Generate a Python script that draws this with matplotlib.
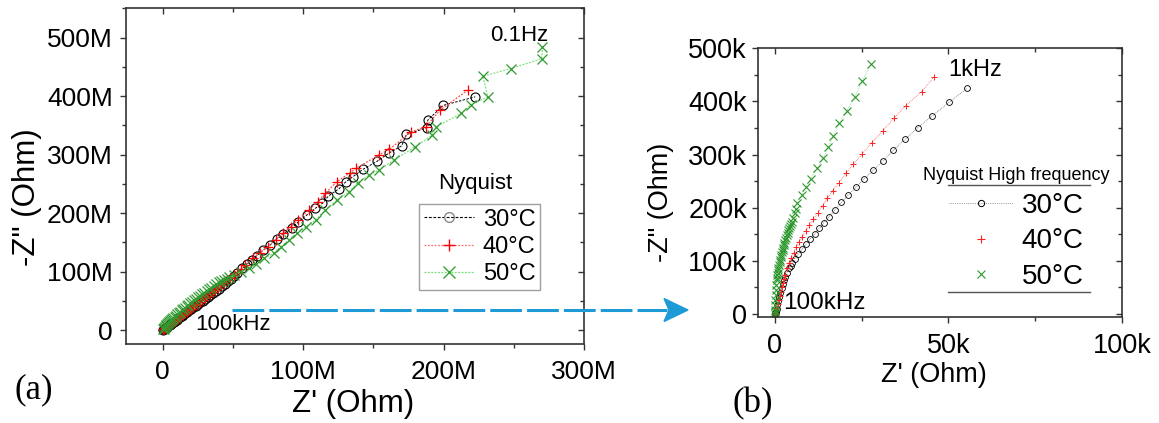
import matplotlib
matplotlib.use('Agg')
import matplotlib.pyplot as plt
from matplotlib.lines import Line2D
from matplotlib.patches import Polygon
from matplotlib.ticker import MultipleLocator

plt.rcParams['font.family'] = ['Liberation Sans', 'DejaVu Sans']

# ---------------- data ----------------
temps = ['30°C', '40°C', '50°C']

# Panel (a): full Nyquist (values in MOhm)
x30a = [0.3, 0.8, 1.4, 2.0, 2.7, 3.4, 4.2, 5.0, 5.9, 6.8, 7.8, 8.8, 9.9, 11.0, 12.2, 13.4, 14.7, 16.0,
        17.4, 18.8, 20.3, 21.8, 23.4, 25.0, 26.7, 28.4, 30.2, 32.0, 33.9, 35.8, 37.8, 39.8, 41.9, 44.0,
        46.2, 48.4, 50.6, 52.7, 56.3, 59.8, 63.4, 67.0, 71.7, 76.4, 81.2, 85.9, 91.9, 96.6, 102.6, 108.5,
        113.7, 117.9, 125.5, 130.1, 135.3, 142.4, 152.4, 161.2, 170.1, 173.4, 187.8, 188.7, 199.5, 222.4]
y30a = [1.2, 2.2, 3.3, 4.4, 5.6, 6.9, 8.3, 9.7, 11.3, 12.9, 14.6, 16.4, 18.3, 20.2, 22.3, 24.4, 26.7, 29.0,
        31.4, 33.9, 36.5, 39.1, 41.9, 44.7, 47.7, 50.7, 53.9, 57.1, 60.5, 64.0, 67.6, 71.3, 75.2, 79.2,
        83.4, 87.7, 92.0, 97.5, 105.8, 113.0, 120.0, 127.5, 137.0, 145.6, 156.0, 165.0, 174.0, 185.3, 197.0, 208.2,
        216.7, 229.2, 241.8, 253.1, 262.2, 274.7, 288.4, 303.0, 315.0, 334.5, 345.8, 359.0, 384.0, 398.8]

x40a = [0.5, 1.1, 1.7, 2.4, 3.1, 3.9, 4.7, 5.6, 6.5, 7.5, 8.5, 9.6, 10.7, 11.9, 13.1, 14.4, 15.7, 17.1,
        18.5, 20.0, 21.5, 23.1, 24.7, 26.4, 28.1, 29.9, 31.7, 33.6, 35.5, 37.5, 39.5, 41.6, 43.7, 45.9,
        48.1, 50.4, 52.7, 55.8, 58.5, 64.0, 69.4, 74.9, 80.3, 85.8, 91.2, 96.6, 104.3, 110.3, 115.7, 123.9,
        133.4, 137.5, 153.8, 161.4, 177.0, 187.3, 197.4, 217.0]
y40a = [1.5, 2.6, 3.7, 4.9, 6.1, 7.5, 8.9, 10.5, 12.1, 13.9, 15.7, 17.7, 19.7, 21.8, 24.0, 26.4, 28.8, 31.3,
        33.9, 36.6, 39.4, 42.3, 45.3, 48.4, 51.5, 54.8, 58.2, 61.7, 65.3, 69.0, 72.8, 76.8, 80.8, 85.0,
        89.3, 93.7, 98.2, 104.0, 111.0, 123.0, 132.5, 142.8, 155.0, 165.5, 177.0, 189.0, 206.0, 219.6, 233.8, 253.7,
        269.0, 276.5, 299.2, 309.4, 339.0, 347.5, 376.0, 410.0]

x50a = [0.2, 0.6, 1.0, 1.5, 2.0, 2.6, 3.2, 3.8, 4.5, 5.2, 6.0, 6.8, 7.6, 8.5, 9.4, 10.4, 11.4, 12.4,
        13.5, 14.6, 15.8, 17.0, 18.2, 19.5, 20.8, 22.2, 23.6, 25.0, 26.5, 28.0, 29.6, 31.2, 32.8, 34.5,
        36.2, 38.0, 39.8, 41.6, 43.5, 45.4, 47.4, 50.4, 55.8, 61.3, 66.7, 72.1, 78.9, 84.4, 89.8, 95.3,
        102.1, 108.9, 115.7, 123.9, 132.6, 138.8, 147.0, 153.8, 164.7, 179.7, 191.9, 194.6, 212.3, 219.1,
        231.4, 227.9, 247.7, 269.8, 270.3]
y50a = [1.5, 2.8, 4.0, 5.5, 7.0, 8.6, 10.2, 11.8, 13.5, 15.2, 17.1, 19.0, 20.9, 23.0, 25.0, 27.2, 29.4, 31.6,
        33.9, 36.2, 38.6, 41.0, 43.4, 45.9, 48.4, 51.0, 53.6, 56.2, 58.9, 61.6, 64.4, 67.2, 70.0, 72.9,
        75.8, 78.8, 81.6, 84.2, 86.6, 88.0, 90.5, 94.0, 100.0, 106.5, 113.0, 122.9, 131.4, 142.8, 154.2, 165.5,
        177.0, 188.3, 205.0, 222.0, 236.6, 252.0, 265.0, 273.6, 290.7, 313.4, 333.3, 347.5, 370.3, 384.5,
        398.8, 434.0, 447.0, 464.0, 484.0]

# Panel (b): high-frequency part (values in kOhm)
x30b = [0.1, 0.2, 0.3, 0.4, 0.6, 0.8, 1.0, 1.3, 1.6, 2.0, 2.3, 2.7, 3.1, 3.5, 4.1, 4.6, 5.0, 5.8, 6.8,
        7.9, 8.9, 10.2, 11.5, 12.8, 14.2, 15.7, 17.4, 19.2, 21.2, 23.4, 25.7, 28.4, 31.3, 34.1, 37.5, 41.2,
        45.4, 50.2, 55.3]
y30b = [0.5, 1.0, 2.5, 4.4, 10.0, 16.9, 24.0, 32.6, 40.0, 48.3, 56.0, 64.0, 70.5, 76.5, 86.0, 90.8, 95.4,
        104.1, 112.9, 121.7, 131.1, 141.2, 150.6, 161.2, 171.9, 183.2, 196.4, 210.2, 224.0, 238.4, 254.1, 270.4,
        288.6, 308.0, 328.8, 350.7, 373.3, 398.4, 424.8]

x40b = [0.1, 0.2, 0.4, 0.7, 1.0, 1.2, 1.5, 1.7, 2.0, 2.3, 2.6, 2.9, 3.5, 4.0, 4.7, 5.5, 6.2, 7.0, 8.0, 8.9,
        10.0, 11.1, 12.4, 13.8, 15.2, 16.7, 18.5, 20.5, 22.6, 25.2, 27.9, 31.1, 34.3, 37.7, 42.3, 45.9]
y40b = [0.3, 0.8, 1.3, 10.7, 18.5, 26.4, 34.0, 42.0, 50.5, 59.0, 66.0, 73.4, 86.0, 95.4, 104.8, 115.4, 125.5,
        136.1, 145.6, 156.9, 167.5, 178.2, 190.7, 203.9, 217.7, 232.1, 247.2, 264.8, 282.3, 301.2, 322.5, 344.4,
        368.3, 392.1, 418.5, 446.7]

x50b = [0.0, 0.05, 0.1, 0.15, 0.2, 0.3, 0.4, 0.5, 0.6, 0.7, 0.8, 0.9, 1.0, 1.1, 1.25, 1.4, 1.5, 1.7, 1.9,
        2.1, 2.3, 2.5, 2.65, 2.8, 3.0, 3.2, 3.45, 3.7, 3.9, 4.15, 4.4, 4.65, 4.9, 5.35, 5.8, 6.05, 6.3, 7.8,
        9.0, 10.4, 12.3, 14.0, 15.4, 16.9, 18.6, 20.7, 23.1, 25.2, 27.7]
y50b = [0.5, 4.0, 7.5, 17.0, 26.0, 35.5, 45.0, 54.5, 64.0, 68.7, 73.4, 78.1, 82.8, 86.0, 92.0, 97.0, 101.0,
        107.0, 112.0, 116.0, 120.0, 125.0, 129.5, 134.0, 139.0, 143.0, 148.5, 153.0, 158.0, 162.0, 166.0, 170.0,
        173.7, 181.5, 189.5, 198.0, 208.0, 224.0, 239.6, 255.0, 274.0, 293.0, 313.7, 335.0, 358.8, 382.0, 409.0,
        438.5, 470.0]

xticks_a = [0, 100, 200, 300]
xticklabels_a = ['0', '100M', '200M', '300M']
yticks_a = [0, 100, 200, 300, 400, 500]
yticklabels_a = ['0', '100M', '200M', '300M', '400M', '500M']
xticks_b = [0, 50, 100]
xticklabels_b = ['0', '50k', '100k']
yticks_b = [0, 100, 200, 300, 400, 500]
yticklabels_b = ['0', '100k', '200k', '300k', '400k', '500k']

# ---------------- layout helpers ----------------
W, H = 1159, 423
fig = plt.figure(figsize=(W / 100, H / 100), dpi=100)
fig.patch.set_facecolor('white')


def fx(px):
    return px / W


def fy(py):
    return 1 - py / H


def rect(l, t, r, b):
    return [fx(l), fy(b), fx(r) - fx(l), fy(t) - fy(b)]


SPC = '#333333'


def style(ax, xt, xtl, yt, ytl, xminor, yminor, lsize, xpad, ypad):
    for s in ax.spines.values():
        s.set_linewidth(1.2)
        s.set_color(SPC)
    ax.set_xticks(xt)
    ax.set_xticklabels(xtl)
    ax.set_yticks(yt)
    ax.set_yticklabels(ytl)
    ax.xaxis.set_minor_locator(MultipleLocator(xminor))
    ax.yaxis.set_minor_locator(MultipleLocator(yminor))
    ax.tick_params(which='both', direction='out', color=SPC, width=1.0, labelsize=lsize)
    ax.tick_params(which='major', length=4.6)
    ax.tick_params(which='minor', length=2.8)
    ax.tick_params(axis='x', pad=xpad)
    ax.tick_params(axis='y', pad=ypad)
    top = ax.secondary_xaxis('top')
    top.set_xticks(xt)
    top.xaxis.set_minor_locator(MultipleLocator(xminor))
    top.tick_params(which='both', direction='in', color=SPC, width=1.0, labeltop=False)
    top.tick_params(which='major', length=4.6)
    top.tick_params(which='minor', length=2.8)
    top.spines['top'].set_visible(False)
    right = ax.secondary_yaxis('right')
    right.set_yticks(yt)
    right.yaxis.set_minor_locator(MultipleLocator(yminor))
    right.tick_params(which='both', direction='in', color=SPC, width=1.0, labelright=False)
    right.tick_params(which='major', length=4.6)
    right.tick_params(which='minor', length=2.8)
    right.spines['right'].set_visible(False)


# ---------------- panel (a) ----------------
axA = fig.add_axes(rect(126.2, 8.3, 584.2, 344.3))
axA.set_xlim(-26, 300)
axA.set_ylim(-24, 550)
axA.plot(x30a, y30a, color='black', ls=(0, (2.5, 1.5)), lw=0.7, marker='o', mfc='none', mec='black',
         ms=6.5, mew=0.8)
axA.plot(x40a, y40a, color='#ff5050', ls=(0, (1.5, 1.2)), lw=0.9, marker='+', mec='red', ms=7, mew=0.9)
axA.plot(x50a, y50a, color='#7be07b', ls=(0, (1.5, 1.2)), lw=0.9, marker='x', mec='#2f9a2f', ms=6.5, mew=0.9)
style(axA, xticks_a, xticklabels_a, yticks_a, yticklabels_a, 50, 50, 19, 7, 5)

axA.text(254, 504, '0.1Hz', fontsize=16, ha='center', va='center')
axA.text(23, 9, '100kHz', fontsize=16, ha='left', va='center')
axA.text(222.8, 251, 'Nyquist', fontsize=16, ha='center', va='center')

hA = [Line2D([], [], color='black', ls=(0, (2.5, 1.5)), lw=0.8, marker='o', mfc='none', mec='#888888', ms=7, mew=1.0),
      Line2D([], [], color='#ff7070', ls=(0, (1.5, 1.2)), lw=0.9, marker='+', mec='red', ms=8, mew=1.0),
      Line2D([], [], color='#70e070', ls=(0, (1.5, 1.2)), lw=0.9, marker='x', mec='#35a535', ms=8, mew=1.0)]
legA = axA.legend(hA, temps, loc='upper left', bbox_to_anchor=(0.6393, 0.4176), borderaxespad=0,
                  frameon=True, fontsize=17, handlelength=2.15, handletextpad=0.35, labelspacing=0.22,
                  borderpad=0.2, fancybox=False, edgecolor='#888888', numpoints=1)
legA.get_frame().set_linewidth(1.0)

fig.text(fx(27.5), fy(197), '-Z" (Ohm)', rotation=90, fontsize=22.5, ha='center', va='center')
fig.text(fx(353.6), fy(404), "Z' (Ohm)", fontsize=22.5, ha='center', va='center')
fig.text(fx(33.5), fy(390), '(a)', fontsize=25, ha='center', va='center', family='Liberation Serif')

# ---------------- panel (b) ----------------
axB = fig.add_axes(rect(758.3, 48.3, 1122.3, 317))
axB.set_xlim(-4.7, 100)
axB.set_ylim(-5.6, 500)
axB.plot(x30b, y30b, color='#777777', ls=(0, (1, 1.2)), lw=0.6, marker='o', mfc='none', mec='black', ms=4.2, mew=0.6)
axB.plot(x40b, y40b, color='#ff6060', ls=(0, (1, 1.2)), lw=0.6, marker='+', mec='#ff2020', ms=4.8, mew=0.7)
axB.plot(x50b, y50b, color='#7be07b', ls=(0, (1, 1.2)), lw=0.6, marker='x', mec='#2b962b', ms=5.2, mew=0.8)
style(axB, xticks_b, xticklabels_b, yticks_b, yticklabels_b, 25, 50, 19.5, 7, 3.5)

axB.text(49.9, 459, '1kHz', fontsize=17, ha='left', va='center')
axB.text(2.4, 20.7, '100kHz', fontsize=17.5, ha='left', va='center')

hB = [Line2D([], [], color='#888888', ls=(0, (1, 1.2)), lw=0.6, marker='o', mfc='none', mec='black', ms=4.5, mew=0.7),
      Line2D([], [], color='#ff2020', ls='none', marker='+', mec='#ff2020', ms=5.5, mew=0.8),
      Line2D([], [], color='#2e9a2e', ls='none', marker='x', mec='#2e9a2e', ms=5.5, mew=0.8)]
legB = axB.legend(hB, temps, loc='upper left', bbox_to_anchor=(0.4525, 0.5582), borderaxespad=0,
                  frameon=False, fontsize=20, title='Nyquist High frequency', title_fontsize=13,
                  handlelength=2.3, handletextpad=0.32, labelspacing=0.33, borderpad=0, numpoints=1)

fig.add_artist(Line2D([fx(948), fx(1090)], [fy(185), fy(185)], transform=fig.transFigure, color='#555555', lw=1.0))
fig.add_artist(Line2D([fx(948), fx(1090)], [fy(292), fy(292)], transform=fig.transFigure, color='#555555', lw=1.0))

fig.text(fx(661), fy(202), '-Z" (Ohm)', rotation=90, fontsize=19.5, ha='center', va='center')
fig.text(fx(934), fy(375), "Z' (Ohm)", fontsize=19.5, ha='center', va='center')
fig.text(fx(753), fy(404), '(b)', fontsize=25, ha='center', va='center', family='Liberation Serif')

# ---------------- connecting arrow ----------------
BLUE = '#1E9BD7'
fig.add_artist(Line2D([fx(231.7), fx(667)], [fy(310), fy(310)], transform=fig.transFigure,
                      color=BLUE, lw=2.2, ls=(0, (10.4, 1.65)), zorder=10))
fig.add_artist(Polygon([(fx(664), fy(298.5)), (fx(688), fy(310)), (fx(664), fy(321.5)), (fx(669), fy(310))],
                       closed=True, transform=fig.transFigure, color=BLUE, zorder=10))

fig.savefig('out.png', dpi=100)
